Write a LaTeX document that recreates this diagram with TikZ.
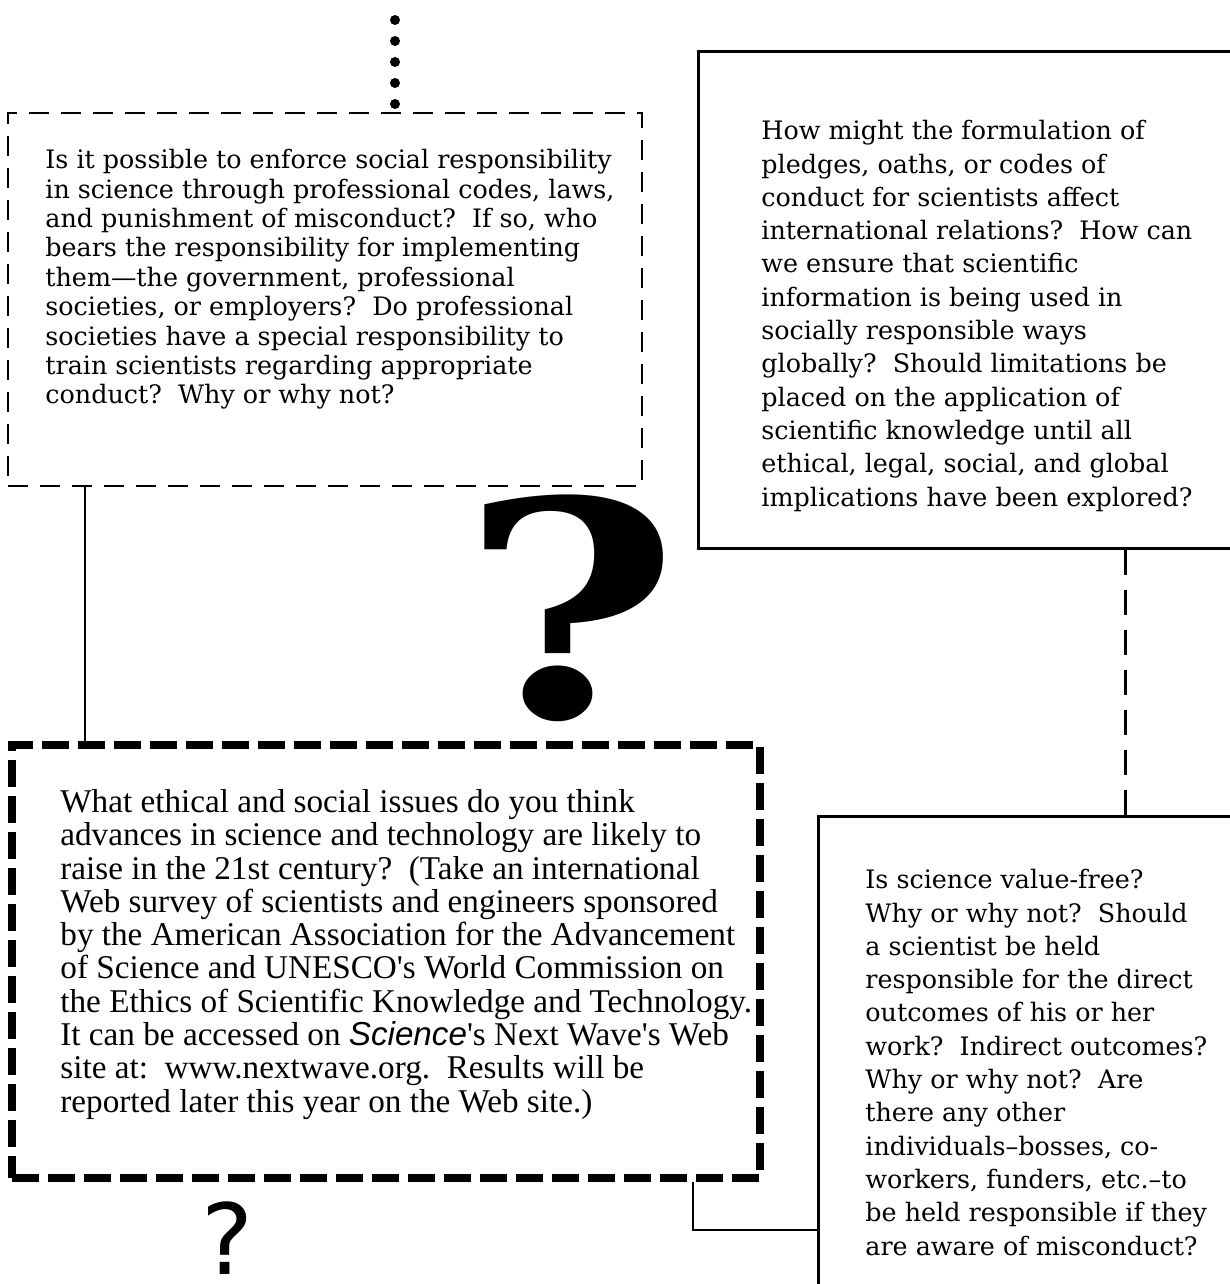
\documentclass[tikz,border=0pt]{standalone}
\usepackage{fontspec}
\setmainfont{DejaVu Serif}
\newfontfamily\bkfont{DejaVu Serif}
\newfontfamily\tmfont{Liberation Serif}
\newfontfamily\scifont{Liberation Sans}
\newfontfamily\qsans{DejaVu Sans}
\begin{document}
\begin{tikzpicture}[x=0.5pt,y=-0.5pt,
  thinbox/.style={draw, line width=1pt, dash pattern=on 10pt off 6pt, inner sep=0pt},
  thickbox/.style={draw, line width=4pt, dash pattern=on 13.5pt off 4.5pt, inner sep=0pt},
  solidbox/.style={draw, line width=1.5pt, inner sep=0pt},
  conn/.style={line width=1pt},
  dconn/.style={line width=1.5pt, dash pattern=on 12.5pt off 7.5pt},
  dotconn/.style={line width=5pt, line cap=round, dash pattern=on 0pt off 10.5pt},
  bktext/.style={anchor=north west, inner sep=0pt, align=left, font=\bkfont\fontsize{12.7}{16.65}\selectfont},
  tmtext/.style={anchor=north west, inner sep=0pt, align=left, font=\tmfont\fontsize{16.6}{16.65}\selectfont}]
\useasboundingbox (0,0) rectangle (1230,1284);
\clip (0,0) rectangle (1230,1284);

% boxes
\node[thinbox, minimum width=317pt, minimum height=186.5pt] (boxA) at (325,299.5) {};
\node[thickbox, minimum width=374pt, minimum height=216.5pt] (boxB) at (386,961.5) {};
\node[solidbox, minimum width=276pt, minimum height=248pt] (boxC) at (974,300) {};
\node[solidbox, minimum width=216pt, minimum height=242pt] (boxD) at (1034,1058) {};

% texts
\node[bktext, font=\bkfont\fontsize{12.7}{14.7}\selectfont] (tA) at (45,149) {Is it possible to enforce social responsibility\\
in science through professional codes, laws,\\
and punishment of misconduct?\ \ If so, who\\
bears the responsibility for implementing\\
them—the government, professional\\
societies, or employers?\ \ Do professional\\
societies have a special responsibility to\\
train scientists regarding appropriate\\
conduct?\ \ Why or why not?};

\node[bktext] (tC) at (761,120) {How might the formulation of\\
pledges, oaths, or codes of\\
conduct for scientists affect\\
international relations?\ \ How can\\
we ensure that scientific\\
information is being used in\\
socially responsible ways\\
globally?\ \ Should limitations be\\
placed on the application of\\
scientific knowledge until all\\
ethical, legal, social, and global\\
implications have been explored?};

\node[bktext] (tD) at (865,869) {Is science value-free?\\
Why or why not?\ \ Should\\
a scientist be held\\
responsible for the direct\\
outcomes of his or her\\
work?\ \ Indirect outcomes?\\
Why or why not?\ \ Are\\
there any other\\
individuals–bosses, co-\\
workers, funders, etc.–to\\
be held responsible if they\\
are aware of misconduct?};

\node[tmtext] (tB) at (60,789) {What ethical and social issues do you think\\
advances in science and technology are likely to\\
raise in the 21st century?\ \ (Take an international\\
Web survey of scientists and engineers sponsored\\
by the American Association for the Advancement\\
of Science and UNESCO's World Commission on\\
the Ethics of Scientific Knowledge and Technology.\\
It can be accessed on {\scifont\itshape Science}'s Next Wave's Web\\
site at:\ \ www.nextwave.org.\ \ Results will be\\
reported later this year on the Web site.)};

% question marks
\node[anchor=base, inner sep=0pt, font=\bkfont\bfseries\fontsize{150}{150}\selectfont] (bigq) at (570,717) {\scalebox{1.25}[1]{?}};
\node[anchor=base, inner sep=0pt, font=\qsans\fontsize{49}{49}\selectfont] (smallq) at (228,1274) {?};

% connectors
\coordinate (dtop) at (395,20);
\draw[dotconn] (dtop) -- (boxA.north -| dtop);
\coordinate (xab) at (85,0);
\draw[conn] (boxA.south -| xab) -- (boxB.north -| xab);
\coordinate (xcd) at (1125,0);
\draw[dconn] (boxC.south -| xcd) -- (boxD.north -| xcd);
\coordinate (bd) at (693,1230);
\draw[conn] (boxB.south -| bd) |- (boxD.west |- bd);
\end{tikzpicture}
\end{document}
